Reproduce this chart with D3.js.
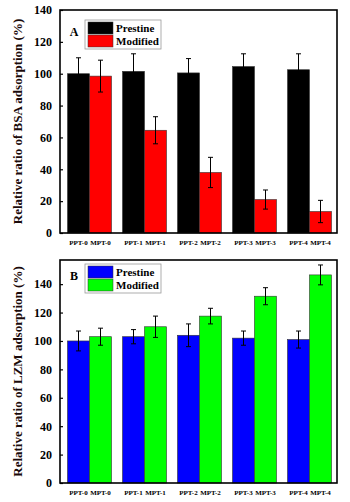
<!DOCTYPE html>
<html>
<head>
  <script src="https://d3js.org/d3.v7.min.js"></script>
  <style>
    body { margin: 0; background: #fff; }
    text { font-family: "Liberation Serif", "Times New Roman", serif; font-weight: bold; }
  </style>
</head>
<body>
  <svg width="350" height="502"></svg>
  <script>
    // data
    const groups = ["0", "1", "2", "3", "4"];
    const seriesNames = ["Prestine", "Modified"];
    const yTicks = [0, 20, 40, 60, 80, 100, 120, 140];

    const bsaPrestine = [100, 101.5, 100.5, 104.5, 102.5];
    const bsaPrestineErr = [10, 11, 9, 8, 10];
    const bsaModified = [98.5, 64.5, 38, 21, 13.5];
    const bsaModifiedErr = [10, 8.5, 9.5, 6, 7];

    const lzmPrestine = [100, 103, 104, 102, 101];
    const lzmPrestineErr = [7, 5, 8, 5, 6];
    const lzmModified = [103, 110, 117.5, 131.5, 146.5];
    const lzmModifiedErr = [6, 7.5, 5.5, 6, 7];

    const svg = d3.select("svg");

    const x0 = d3.scaleBand().domain(groups).range([62, 337]).paddingInner(0.2).paddingOuter(0.1);
    const x1 = d3.scaleBand().domain(seriesNames).range([0, x0.bandwidth()]);

    function drawPanel(opt) {
      const y = d3.scaleLinear().domain([0, opt.yMax]).range([opt.bottom, opt.top]);
      const g = svg.append("g");

      const rows = groups.map((k, i) => ({
        k: k,
        vals: [
          { s: "Prestine", v: opt.pre[i], e: opt.preErr[i], lab: "PPT-" + k },
          { s: "Modified", v: opt.mod[i], e: opt.modErr[i], lab: "MPT-" + k }
        ]
      }));

      const grp = g.selectAll(".grp").data(rows).enter().append("g")
        .attr("transform", d => "translate(" + x0(d.k) + ",0)");

      grp.selectAll("rect").data(d => d.vals).enter().append("rect")
        .attr("x", d => x1(d.s))
        .attr("y", d => y(d.v))
        .attr("width", x1.bandwidth())
        .attr("height", d => y(0) - y(d.v))
        .attr("fill", d => d.s == "Prestine" ? opt.colors[0] : opt.colors[1])
        .attr("stroke", "#333")
        .attr("stroke-width", 0.6);

      // error bars
      grp.selectAll(".err").data(d => d.vals).enter().append("path")
        .attr("d", d => {
          const cx = x1(d.s) + x1.bandwidth() / 2;
          const t = y(d.v + d.e), b = y(d.v - d.e);
          return "M" + cx + "," + t + "V" + b + "M" + (cx - 2.5) + "," + t + "H" + (cx + 2.5) + "M" + (cx - 2.5) + "," + b + "H" + (cx + 2.5);
        })
        .attr("stroke", "#000")
        .attr("stroke-width", 1)
        .attr("fill", "none");

      // x labels
      grp.selectAll(".lab").data(d => d.vals).enter().append("text")
        .attr("x", d => x1(d.s) + x1.bandwidth() / 2)
        .attr("y", opt.bottom + 12)
        .attr("text-anchor", "middle")
        .style("font-size", "7px")
        .text(d => d.lab);

      // y axis
      const ax = g.append("g")
        .attr("transform", "translate(60,0)")
        .call(d3.axisLeft(y).tickValues(yTicks).tickSize(-3).tickPadding(8));
      ax.select(".domain").remove();
      ax.selectAll(".tick line").attr("stroke", "#000").attr("stroke-width", 1.2);
      ax.selectAll(".tick text").style("font-size", "12px").attr("fill", "#000");

      // frame
      g.append("rect")
        .attr("x", 60).attr("y", opt.top)
        .attr("width", 277).attr("height", opt.bottom - opt.top)
        .attr("fill", "none").attr("stroke", "#000").attr("stroke-width", 1.6);

      // y title
      g.append("text")
        .attr("transform", "translate(22," + ((opt.top + opt.bottom) / 2) + ") rotate(-90)")
        .attr("text-anchor", "middle")
        .style("font-size", "13px")
        .attr("fill", "#1a0a0a")
        .text(opt.title);

      // panel letter
      g.append("text")
        .attr("x", 74).attr("y", opt.lgTop + 16)
        .attr("text-anchor", "middle")
        .style("font-size", "12px")
        .text(opt.letter);

      // legend
      g.append("rect")
        .attr("x", 85).attr("y", opt.lgTop)
        .attr("width", 76).attr("height", 29)
        .attr("fill", "#fff").attr("stroke", "#999").attr("stroke-width", 0.8);
      const lg = g.selectAll(".lg").data(seriesNames).enter().append("g")
        .attr("transform", (d, i) => "translate(88," + (opt.lgTop + 2 + i * 13) + ")");
      lg.append("rect")
        .attr("width", 25).attr("height", 12)
        .attr("fill", (d, i) => opt.colors[i])
        .attr("stroke", "#333").attr("stroke-width", 0.5);
      lg.append("text")
        .attr("x", 28).attr("y", 10)
        .style("font-size", "11px")
        .text(d => d);
    }

    drawPanel({
      top: 10, bottom: 233, yMax: 140,
      pre: bsaPrestine, preErr: bsaPrestineErr, mod: bsaModified, modErr: bsaModifiedErr,
      colors: ["#000000", "#ff0000"],
      title: "Relative ratio of BSA adsorption (%)",
      letter: "A", lgTop: 20
    });

    drawPanel({
      top: 260, bottom: 483, yMax: 157,
      pre: lzmPrestine, preErr: lzmPrestineErr, mod: lzmModified, modErr: lzmModifiedErr,
      colors: ["#0000ff", "#00ff00"],
      title: "Relative ratio of LZM adsorption (%)",
      letter: "B", lgTop: 264
    });
  </script>
</body>
</html>
